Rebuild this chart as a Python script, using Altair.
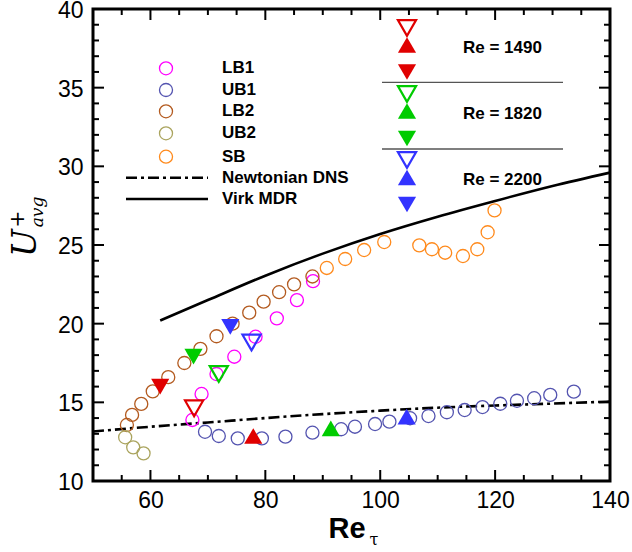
import altair as alt
import pandas as pd

# ---------------- data ----------------
lb1_x = [67.3, 68.9, 71.5, 74.6, 78.3, 82.0, 85.5, 88.3]
lb1_y = [13.88, 15.53, 16.8, 17.9, 19.17, 20.34, 21.5, 22.7]

ub1_x = [69.5, 71.9, 75.2, 79.4, 83.5, 88.2, 93.2, 95.6, 99.1, 101.6, 105.2,
         108.4, 111.6, 114.7, 117.8, 120.9, 123.8, 126.8, 129.6, 133.7]
ub1_y = [13.13, 12.86, 12.71, 12.71, 12.82, 13.07, 13.29, 13.45, 13.62, 13.77, 13.99,
         14.13, 14.37, 14.51, 14.70, 14.91, 15.10, 15.26, 15.47, 15.68]

lb2_x = [55.9, 56.8, 58.4, 60.4, 63.1, 65.9, 68.7, 71.5, 74.3, 77.2, 79.7, 82.4, 85.0, 88.2]
lb2_y = [13.56, 14.2, 14.9, 15.7, 16.6, 17.5, 18.4, 19.2, 20.0, 20.7, 21.4, 22.0, 22.5, 23.0]

ub2_x = [55.6, 57.0, 58.8]
ub2_y = [12.78, 12.14, 11.76]

sb_x = [90.7, 93.9, 97.2, 100.7, 106.8, 109.0, 111.3, 114.4, 116.9, 118.7, 119.9]
sb_y = [23.54, 24.11, 24.68, 25.19, 24.98, 24.73, 24.51, 24.30, 24.73, 25.81, 27.2]

# triangles: Re groups
re_labels = ["Re = 1490", "Re = 1820", "Re = 2200"]
open_down_x = [67.6, 71.9, 77.6]
open_down_y = [14.62, 16.8, 18.8]
filled_up_x = [77.9, 91.4, 104.6]
filled_up_y = [12.86, 13.35, 14.09]
filled_down_x = [61.7, 67.5, 73.9]
filled_down_y = [16.0, 17.9, 19.8]

# curves
mdr_x = [61.7, 70, 80, 90, 100, 110, 120, 130, 140]
mdr_y = [20.2, 21.5, 23.05, 24.45, 25.7, 26.8, 27.8, 28.75, 29.6]
dns_x = [50, 60, 70, 80, 90, 100, 110, 120, 130, 140]
dns_y = [13.15, 13.45, 13.72, 14.0, 14.25, 14.47, 14.66, 14.8, 14.92, 15.05]

x_major = [60, 80, 100, 120]
x_minor = [55, 65, 70, 75, 85, 90, 95, 105, 110, 115, 125, 130, 135]
y_major = [15, 20, 25, 30, 35]
y_minor = [v for v in range(11, 40) if v % 5 != 0]

series_names = ["LB1", "UB1", "LB2", "UB2", "SB"]
series_colors = ["#ff00ff", "#5454b0", "#b35a1f", "#aaa45e", "#ff8a1c"]
re_colors = ["#e00000", "#00cc00", "#3333ff"]

# ---------------- layout ----------------
W, H = 517, 472
FONT = "Liberation Sans"

xs = alt.Scale(domain=[50, 140], nice=False, zero=False)
ys = alt.Scale(domain=[10, 40], nice=False, zero=False)
xaxis = alt.Axis(values=[60, 80, 100, 120, 140], labelFontSize=23, labelFont=FONT,
                 labelColor="black", ticks=False, tickSize=0, domain=False, grid=False,
                 labelPadding=8, labelFlush=False, labelOverlap=False, title=None)
yaxis = alt.Axis(values=[10, 15, 20, 25, 30, 35, 40], labelFontSize=23, labelFont=FONT,
                 labelColor="black", ticks=False, tickSize=0, domain=False, grid=False,
                 labelPadding=10, labelOffset=1.5, labelFlush=False, labelOverlap=False, title=None)
X = alt.X("x:Q", scale=xs, axis=xaxis)
Y = alt.Y("y:Q", scale=ys, axis=yaxis)

# one shared colour scale for every series and Re group
COLOR = alt.Color("s:N", scale=alt.Scale(domain=series_names + re_labels,
                                         range=series_colors + re_colors), legend=None)

rows = []
for name, xv, yv in zip(series_names, [lb1_x, ub1_x, lb2_x, ub2_x, sb_x],
                        [lb1_y, ub1_y, lb2_y, ub2_y, sb_y]):
    for a, b in zip(xv, yv):
        rows.append({"s": name, "x": a, "y": b})
circ_df = pd.DataFrame(rows)

circles = alt.Chart(circ_df).mark_point(shape="circle", filled=False, size=170,
                                        strokeWidth=1.3, opacity=1).encode(x=X, y=Y, color=COLOR)

def tri_df(xv, yv):
    return pd.DataFrame({"x": xv, "y": yv, "s": re_labels})

t_open = alt.Chart(tri_df(open_down_x, open_down_y)).mark_point(
    shape="triangle-down", filled=False, size=330, strokeWidth=2.2, opacity=1).encode(x=X, y=Y, color=COLOR)
t_up = alt.Chart(tri_df(filled_up_x, filled_up_y)).mark_point(
    shape="triangle-up", filled=True, size=330, opacity=1).encode(x=X, y=Y, color=COLOR)
t_down = alt.Chart(tri_df(filled_down_x, filled_down_y)).mark_point(
    shape="triangle-down", filled=True, size=330, opacity=1).encode(x=X, y=Y, color=COLOR)

mdr = alt.Chart(pd.DataFrame({"x": mdr_x, "y": mdr_y})).mark_line(
    color="black", strokeWidth=2.6, interpolate="monotone").encode(x=X, y=Y)
dns = alt.Chart(pd.DataFrame({"x": dns_x, "y": dns_y})).mark_line(
    color="black", strokeWidth=2.6, strokeDash=[11, 4, 3, 4], interpolate="monotone").encode(x=X, y=Y)

# inward ticks on all four sides
def xticks(vals, ln):
    d = pd.DataFrame({"x": vals})
    top = alt.Chart(d).mark_rule(color="black", strokeWidth=2).encode(
        x=X, y=alt.value(0), y2=alt.value(ln))
    bot = alt.Chart(d).mark_rule(color="black", strokeWidth=2).encode(
        x=X, y=alt.value(H), y2=alt.value(H - ln))
    return [top, bot]

def yticks(vals, ln):
    d = pd.DataFrame({"y": vals})
    lft = alt.Chart(d).mark_rule(color="black", strokeWidth=2).encode(
        y=Y, x=alt.value(0), x2=alt.value(ln))
    rgt = alt.Chart(d).mark_rule(color="black", strokeWidth=2).encode(
        y=Y, x=alt.value(W), x2=alt.value(W - ln))
    return [lft, rgt]

tick_layers = xticks(x_major, 11) + xticks(x_minor, 6) + yticks(y_major, 11) + yticks(y_minor, 6)

one = pd.DataFrame({"a": [0]})

def txt(t, px, py, size=17, bold=True, align="left", font=FONT, style="normal", angle=0, baseline="middle"):
    kw = dict(text=t, fontSize=size, font=font, align=align, baseline=baseline,
              color="black", fontStyle=style)
    if bold:
        kw["fontWeight"] = "bold"
    if angle:
        kw["angle"] = angle
    return alt.Chart(one).mark_text(**kw).encode(x=alt.value(px), y=alt.value(py))

def sym(shape, color, px, py, filled, size):
    if filled:
        m = alt.Chart(one).mark_point(shape=shape, filled=True, color=color, size=size, opacity=1)
    else:
        m = alt.Chart(one).mark_point(shape=shape, filled=False, color=color, size=size,
                                      strokeWidth=2.2 if shape != "circle" else 1.3, opacity=1)
    return m.encode(x=alt.value(px), y=alt.value(py))

def hline(x1, x2, py, dash=None, width=2.6, color="black"):
    kw = dict(color=color, strokeWidth=width)
    if dash:
        kw["strokeDash"] = dash
    return alt.Chart(one).mark_rule(**kw).encode(x=alt.value(x1), x2=alt.value(x2), y=alt.value(py))

# left legend
leg_y = [59.3, 81, 102.3, 124.3, 147.7]
legend_layers = []
for name, col, ly in zip(series_names, series_colors, leg_y):
    legend_layers.append(sym("circle", col, 73, ly, False, 170))
    legend_layers.append(txt(name, 129, ly))
legend_layers.append(hline(33, 115, 168.7, dash=[11, 4, 3, 4]))
legend_layers.append(txt("Newtonian DNS", 129, 168.7))
legend_layers.append(hline(33, 115, 190))
legend_layers.append(txt("Virk MDR", 129, 190))

# top-right legend
tri_rows = [(19, 36, 63), (85, 102, 129.5), (151, 168.5, 195.5)]
text_y = [39.3, 105, 171]
for (yo, yu, yd), col, lab, ty in zip(tri_rows, re_colors, re_labels, text_y):
    legend_layers.append(sym("triangle-down", col, 314, yo, False, 330))
    legend_layers.append(sym("triangle-up", col, 314, yu, True, 330))
    legend_layers.append(sym("triangle-down", col, 314, yd, True, 330))
    legend_layers.append(txt(lab, 370, ty))
legend_layers.append(hline(289, 470, 73.3, width=1.3, color="#555555"))
legend_layers.append(hline(289, 470, 140, width=1.3, color="#555555"))

# axis titles
title_layers = [
    txt("Re", 254, 529, size=29, align="center", baseline="alphabetic"),
    txt("τ", 281, 536, size=16, bold=False, align="center", font="DejaVu Serif", baseline="alphabetic"),
    txt("U", -57, 234, size=33, bold=False, align="center", font="DejaVu Serif", style="italic",
        angle=270, baseline="alphabetic"),
    txt("+", -69, 210, size=20, bold=False, align="center", font="DejaVu Serif",
        angle=270, baseline="alphabetic"),
    txt("avg", -50, 203, size=17, bold=False, align="center", font="DejaVu Serif", style="italic",
        angle=270, baseline="alphabetic"),
]

chart = alt.layer(
    dns, mdr, circles, t_open, t_up, t_down, *tick_layers, *legend_layers, *title_layers
).properties(
    width=W, height=H,
    padding={"left": 93, "top": 9, "right": 22, "bottom": 71},
    autosize=alt.AutoSizeParams(type="none"),
).configure_view(stroke="black", strokeWidth=3)

chart.save("out.html", embed_options={"renderer": "svg", "actions": False})
